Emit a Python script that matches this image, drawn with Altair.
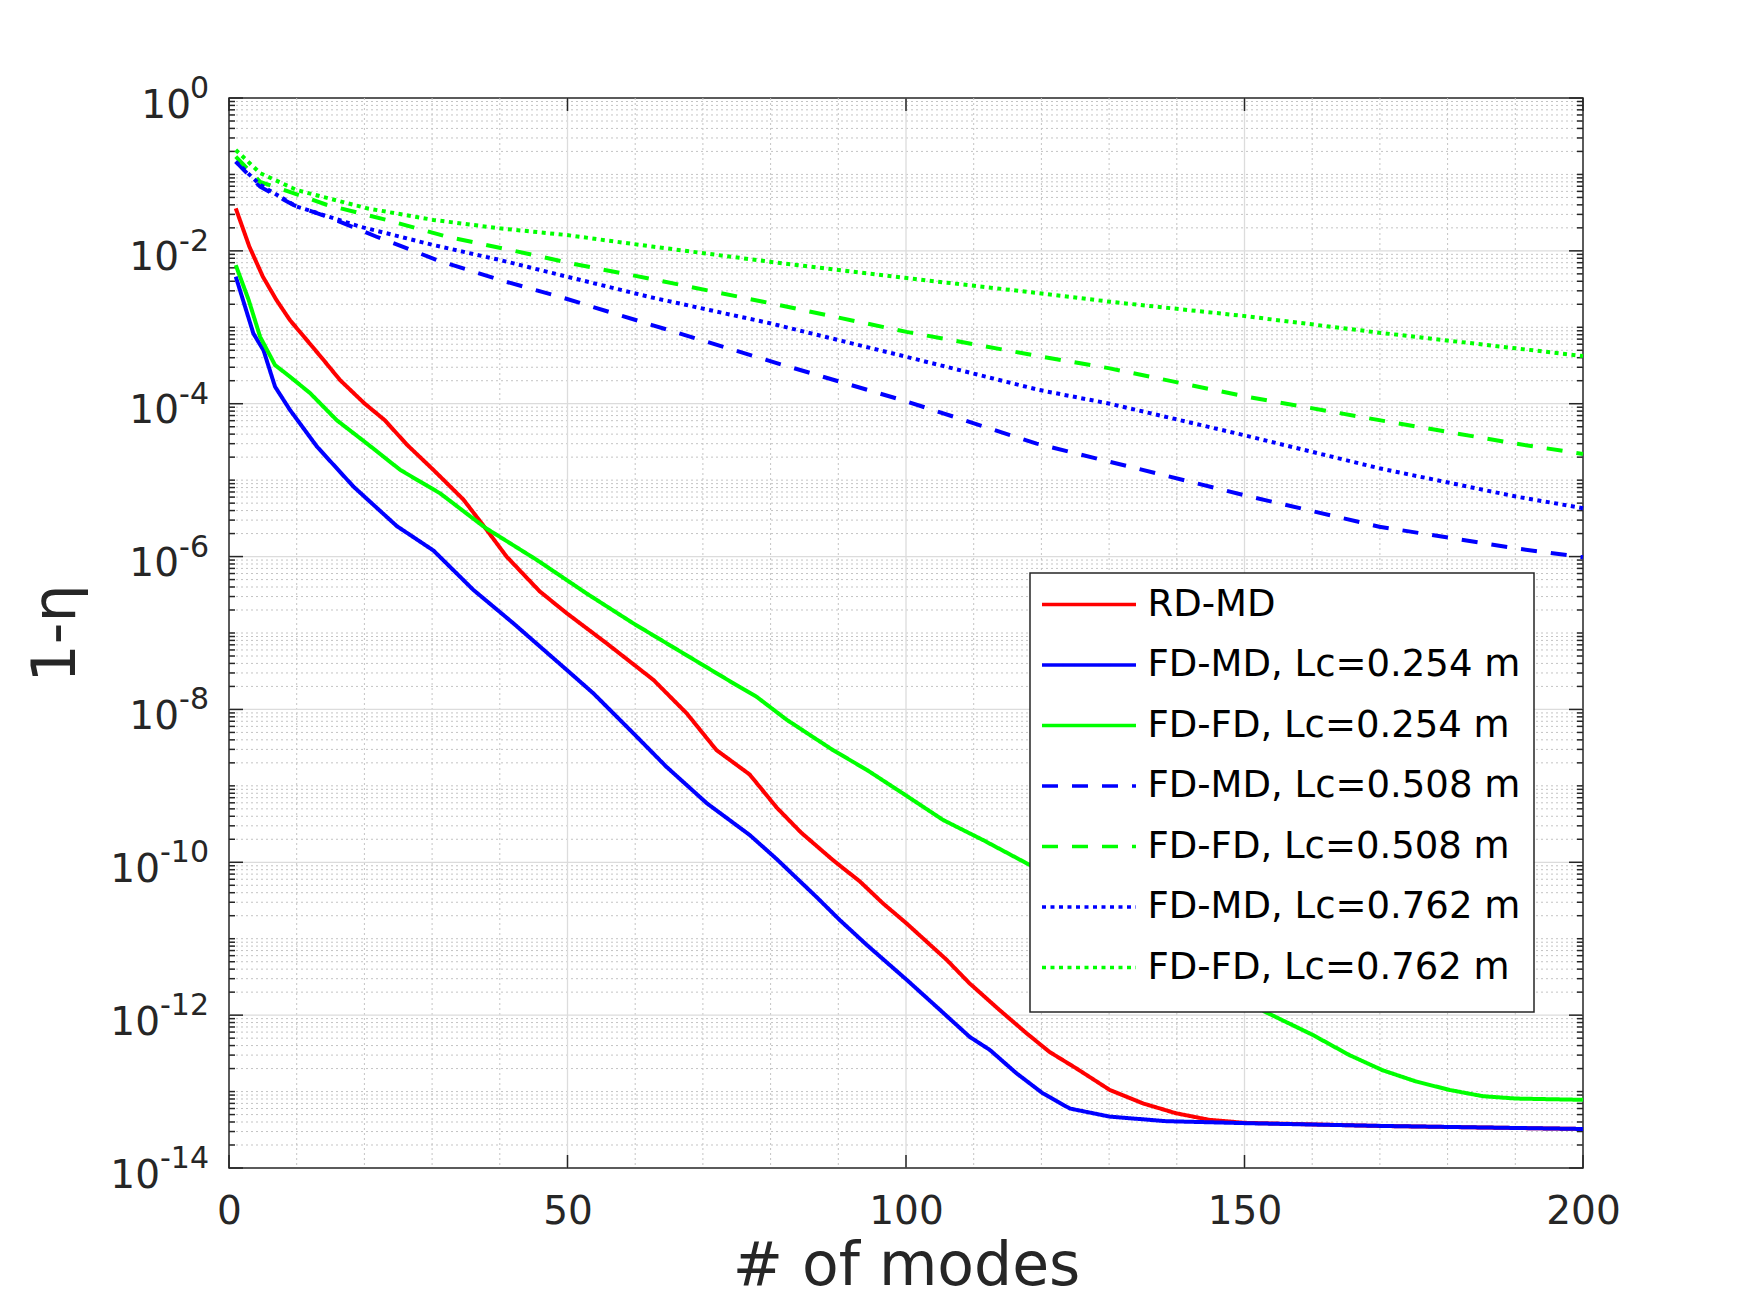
import altair as alt
import pandas as pd

# ---------------- data ----------------
series_names = [
    "RD-MD",
    "FD-MD, Lc=0.254 m",
    "FD-FD, Lc=0.254 m",
    "FD-MD, Lc=0.508 m",
    "FD-FD, Lc=0.508 m",
    "FD-MD, Lc=0.762 m",
    "FD-FD, Lc=0.762 m",
]

rd_md_x = [1, 3, 5, 7, 9, 11.5, 14, 16.4, 20, 23, 26.3, 30.2, 34.6, 37.8, 41, 45.9,
           49.9, 55.8, 62.7, 67.6, 72, 76.9, 80.9, 84.5, 89.2, 93.2, 96.6, 100.1,
           106, 109.4, 113.8, 117.8, 121.2, 125.2, 130.1, 135, 139.9, 144.8, 150,
           170, 200]
rd_md_y = [3.6e-2, 1.14e-2, 4.6e-3, 2.28e-3, 1.24e-3, 6.8e-4, 3.7e-4, 2.04e-4, 1.01e-4,
           6.1e-5, 2.9e-5, 1.36e-5, 5.6e-6, 2.4e-6, 1.0e-6, 3.5e-7, 1.81e-7, 7.3e-8,
           2.43e-8, 8.9e-9, 2.94e-9, 1.41e-9, 5.2e-10, 2.45e-10, 1.07e-10, 5.6e-11,
           2.9e-11, 1.58e-11, 5.3e-12, 2.6e-12, 1.17e-12, 5.8e-13, 3.3e-13, 2.0e-13,
           1.05e-13, 7.0e-14, 5.2e-14, 4.27e-14, 3.9e-14, 3.55e-14, 3.24e-14]

fdmd254_x = [1, 3.6, 5.1, 6.8, 9, 13, 18.4, 24.8, 30.2, 36.1, 42, 49.9, 53.8, 59.7,
             64.6, 70.6, 76.9, 80.9, 86.8, 90.2, 94.2, 100.1, 104.5, 109.4, 112.4,
             116.3, 120.2, 124.2, 130.1, 138.4, 150.7, 170.4, 200]
fdmd254_y = [4.6e-3, 8.3e-4, 5.0e-4, 1.67e-4, 8.3e-5, 2.74e-5, 8.2e-6, 2.5e-6, 1.2e-6,
             3.66e-7, 1.34e-7, 3.28e-8, 1.63e-8, 4.9e-9, 1.78e-9, 5.9e-10, 2.28e-10,
             1.1e-10, 3.5e-11, 1.76e-11, 8.3e-12, 2.9e-12, 1.29e-12, 5.2e-13, 3.5e-13,
             1.74e-13, 9.5e-14, 6.0e-14, 4.7e-14, 4.1e-14, 3.85e-14, 3.55e-14, 3.24e-14]

fdfd254_x = [1, 2.9, 4.6, 6.8, 9, 12, 15.9, 20.4, 25.3, 31.2, 37.8, 45.5, 52.8, 59.7,
             69.6, 74.5, 77.9, 82.4, 89.2, 94.2, 99.6, 105.5, 111.4, 118.3, 125, 132,
             139, 146, 153, 160.1, 165.5, 170.4, 175.4, 180.3, 185.2, 190.1, 200]
fdfd254_y = [6.5e-3, 2.28e-3, 7.5e-4, 3.2e-4, 2.26e-4, 1.37e-4, 6.1e-5, 3.0e-5, 1.36e-5,
             6.7e-6, 2.4e-6, 9.0e-7, 3.3e-7, 1.34e-7, 4.0e-8, 2.2e-8, 1.47e-8, 7.3e-9,
             2.94e-9, 1.62e-9, 7.9e-10, 3.57e-10, 1.95e-10, 9.2e-11, 4.0e-11, 1.66e-11,
             6.8e-12, 2.75e-12, 1.11e-12, 5.5e-13, 3.0e-13, 1.9e-13, 1.35e-13, 1.05e-13,
             8.7e-14, 8.1e-14, 7.8e-14]

fdmd508_x = [1, 4.6, 9.5, 14.5, 21.8, 30.7, 40, 48.9, 62.5, 80.9, 100.1, 119.3, 130.1,
             149.8, 169.9, 190.1, 200]
fdmd508_y = [0.147, 6.9e-2, 3.98e-2, 2.8e-2, 1.53e-2, 7.6e-3, 4.16e-3, 2.5e-3, 1.07e-3,
             3.4e-4, 1.07e-4, 3.0e-5, 1.74e-5, 6.4e-6, 2.46e-6, 1.28e-6, 9.8e-7]

fdfd508_x = [1, 4.6, 9.5, 14.5, 23.3, 32.2, 41.5, 50.4, 62.9, 78.9, 100.1, 120.2, 130.1,
             149.8, 169.9, 190.1, 200]
fdfd508_y = [0.171, 8.0e-2, 5.7e-2, 3.98e-2, 2.54e-2, 1.53e-2, 1.03e-2, 6.9e-3, 4.2e-3,
             2.16e-3, 8.7e-4, 4.1e-4, 2.9e-4, 1.26e-4, 6.1e-5, 3.0e-5, 2.2e-5]

fdmd762_x = [1, 4.6, 10, 19.4, 30.2, 40, 49.9, 62.5, 79.9, 100.1, 119.7, 130.1, 149.8,
             169.9, 190.1, 200]
fdmd762_y = [0.147, 7.3e-2, 3.8e-2, 2.07e-2, 1.19e-2, 7.6e-3, 4.6e-3, 2.45e-3, 1.13e-3,
             4.1e-4, 1.51e-4, 1.0e-4, 3.9e-5, 1.43e-5, 6.1e-6, 4.3e-6]

fdfd762_x = [1, 4.6, 10, 20.4, 30.2, 40, 49.9, 62.5, 79.9, 100.1, 119.7, 130.1, 149.8,
             169.9, 190.1, 200]
fdfd762_y = [0.209, 0.104, 6.25e-2, 3.6e-2, 2.54e-2, 1.97e-2, 1.61e-2, 1.14e-2, 7.2e-3,
             4.4e-3, 2.79e-3, 2.16e-3, 1.41e-3, 8.5e-4, 5.3e-4, 4.2e-4]

# axis tick values / labels
x_tick_values = [0, 50, 100, 150, 200]
x_major_grid = [50, 100, 150]
x_minor_grid = [10, 20, 30, 40, 60, 70, 80, 90, 110, 120, 130, 140, 160, 170, 180, 190]
y_label_exps = ["0", "-2", "-4", "-6", "-8", "-10", "-12", "-14"]
y_label_values = [1e0, 1e-2, 1e-4, 1e-6, 1e-8, 1e-10, 1e-12, 1e-14]
y_major_grid = [1e-2, 1e-4, 1e-6, 1e-8, 1e-10, 1e-12]
y_minor_values = [m * 10.0 ** e for e in range(-14, 0) for m in range(2, 10)] + \
                 [1e-1, 1e-3, 1e-5, 1e-7, 1e-9, 1e-11, 1e-13]

# ---------------- styling ----------------
colors = ["#ff0000", "#0000ff", "#00ff00", "#0000ff", "#00ff00", "#0000ff", "#00ff00"]
dashes = [[1, 0], [1, 0], [1, 0], [16, 14], [16, 14], [4, 4.5], [4, 4.5]]
W, H = 1354, 1070
FONT = "DejaVu Sans"
DARK = "#262626"

all_x = [rd_md_x, fdmd254_x, fdfd254_x, fdmd508_x, fdfd508_x, fdmd762_x, fdfd762_x]
all_y = [rd_md_y, fdmd254_y, fdfd254_y, fdmd508_y, fdfd508_y, fdmd762_y, fdfd762_y]
rows = []
for name, xs_, ys_ in zip(series_names, all_x, all_y):
    for xv, yv in zip(xs_, ys_):
        rows.append({"series": name, "modes": xv, "val": yv})
df = pd.DataFrame(rows)

label_df = pd.DataFrame({"v": y_label_values, "e": y_label_exps,
                         "n": [len(s) for s in y_label_exps]})

xscale = alt.Scale(domain=[0, 200], nice=False, zero=False)
yscale = alt.Scale(type="log", domain=[1e-14, 1], nice=False)

x_axis = alt.Axis(values=x_tick_values, title="# of modes", labelFontSize=39,
                  labelPadding=24, titleFontSize=60, titlePadding=6,
                  labelFlush=False, grid=False, ticks=False, domain=False)
y_axis = alt.Axis(values=y_label_values, labels=False, title="1-η",
                  labelPadding=0, titleFontSize=60, titlePadding=142,
                  grid=False, ticks=False, domain=False)


def vdf(vals):
    return pd.DataFrame({"v": vals})


def xenc(field="v:Q"):
    return alt.X(field, scale=xscale, axis=x_axis)


def yenc(field="v:Q"):
    return alt.Y(field, scale=yscale, axis=y_axis)


grid_minor_x = alt.Chart(vdf(x_minor_grid)).mark_rule(
    color="#c4c4c4", strokeWidth=1, strokeDash=[2, 3]).encode(x=xenc())
grid_major_x = alt.Chart(vdf(x_major_grid)).mark_rule(
    color="#dcdcdc", strokeWidth=1.3).encode(x=xenc())
grid_minor_y = alt.Chart(vdf(y_minor_values)).mark_rule(
    color="#c4c4c4", strokeWidth=1, strokeDash=[2, 3]).encode(y=yenc())
grid_major_y = alt.Chart(vdf(y_major_grid)).mark_rule(
    color="#dcdcdc", strokeWidth=1.3).encode(y=yenc())

tick_style = dict(color=DARK, strokeWidth=1.5)
yt_major_l = alt.Chart(vdf(y_label_values)).mark_rule(**tick_style).encode(
    y=yenc(), x=alt.value(0), x2=alt.value(14))
yt_major_r = alt.Chart(vdf(y_label_values)).mark_rule(**tick_style).encode(
    y=yenc(), x=alt.value(W - 14), x2=alt.value(W))
yt_minor_l = alt.Chart(vdf(y_minor_values)).mark_rule(**tick_style).encode(
    y=yenc(), x=alt.value(0), x2=alt.value(6))
yt_minor_r = alt.Chart(vdf(y_minor_values)).mark_rule(**tick_style).encode(
    y=yenc(), x=alt.value(W - 6), x2=alt.value(W))
xt_b = alt.Chart(vdf(x_tick_values)).mark_rule(**tick_style).encode(
    x=xenc(), y=alt.value(H - 13), y2=alt.value(H))
xt_t = alt.Chart(vdf(x_tick_values)).mark_rule(**tick_style).encode(
    x=xenc(), y=alt.value(0), y2=alt.value(13))

# y tick labels: "10" with a raised exponent
exp_text = alt.Chart(label_df).mark_text(
    align="right", baseline="middle", font=FONT, fontSize=30, color=DARK, dy=-9
).encode(y=yenc(), x=alt.value(-20), text="e:N")
base_layers = []
for n, xpos in [(1, -38), (2, -50), (3, -69)]:
    base_layers.append(
        alt.Chart(label_df).transform_filter(alt.datum.n == n).mark_text(
            align="right", baseline="middle", font=FONT, fontSize=39, color=DARK, dy=7.5
        ).encode(y=yenc(), x=alt.value(xpos), text=alt.value("10"))
    )

legend = alt.Legend(
    title=" ", titleOrient="bottom", titleFontSize=10, titlePadding=3,
    orient="none", legendX=801, legendY=475,
    fillColor="white", strokeColor=DARK, padding=13,
    labelFont=FONT, labelFontSize=37, labelColor="black", labelLimit=800,
    labelOffset=67.5, symbolType="M-1.66,0H6.34", symbolSize=552, symbolStrokeWidth=3.5,
    rowPadding=22.5,
)

lines = alt.Chart(df).mark_line(strokeWidth=4).encode(
    x=xenc("modes:Q"),
    y=yenc("val:Q"),
    color=alt.Color("series:N", scale=alt.Scale(domain=series_names, range=colors),
                    legend=legend),
    strokeDash=alt.StrokeDash("series:N", scale=alt.Scale(domain=series_names, range=dashes),
                              legend=legend),
)

chart = alt.layer(
    grid_minor_x, grid_minor_y, grid_major_x, grid_major_y,
    yt_major_l, yt_major_r, yt_minor_l, yt_minor_r, xt_b, xt_t,
    exp_text, *base_layers,
    lines,
).properties(
    width=W, height=H,
    padding={"left": 221, "top": 90, "right": 150, "bottom": 131},
    autosize=alt.AutoSizeParams(type="none"),
    background="white",
).configure_view(
    stroke=DARK, strokeWidth=1.5
).configure_axis(
    labelFont=FONT, titleFont=FONT, labelColor=DARK, titleColor=DARK,
    titleFontWeight="normal",
).configure_legend(
    strokeWidth=1.5
)

chart.save("out.html", embed_options={"renderer": "svg", "actions": False})
